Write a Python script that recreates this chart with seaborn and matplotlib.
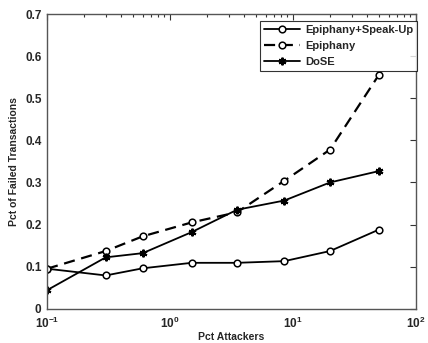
import matplotlib
matplotlib.use("Agg")
import matplotlib.pyplot as plt
import seaborn as sns
import numpy as np
from matplotlib.ticker import LogLocator, FixedLocator

# Percentage of attacking nodes (log scale)
pct_attackers = [0.1, 0.3, 0.6, 1.5, 3.5, 8.5, 20, 50]

# Fraction of failed transactions per scheme
epiphany_speakup = [0.095, 0.079, 0.096, 0.109, 0.109, 0.113, 0.137, 0.188]
epiphany = [0.095, 0.137, 0.172, 0.205, 0.229, 0.304, 0.378, 0.556]
dose = [0.044, 0.122, 0.132, 0.182, 0.235, 0.257, 0.300, 0.327]

series_names = ["Epiphany+Speak-Up", "Epiphany", "DoSE"]

sns.set_style("white")
plt.rcParams["font.family"] = ["Liberation Sans", "DejaVu Sans"]
plt.rcParams["mathtext.fontset"] = "custom"
plt.rcParams["mathtext.rm"] = "Liberation Sans:bold"
plt.rcParams["mathtext.bf"] = "Liberation Sans:bold"

fig = plt.figure(figsize=(4.28, 3.43), dpi=100)
ax = fig.add_axes([0.110, 0.100, 0.862, 0.859])

# Epiphany+Speak-Up: solid line, open circles
sns.lineplot(x=pct_attackers, y=epiphany_speakup, ax=ax, color="black",
             marker="o", markersize=4.8, markerfacecolor="white",
             markeredgecolor="black", markeredgewidth=1.1, linewidth=1.3,
             label=series_names[0])
# Epiphany: dashed line, open circles
sns.lineplot(x=pct_attackers, y=epiphany, ax=ax, color="black",
             marker="o", markersize=4.8, markerfacecolor="white",
             markeredgecolor="black", markeredgewidth=1.1, linewidth=1.6,
             dashes=(5, 3), label=series_names[1])
# DoSE: solid line, asterisks
sns.lineplot(x=pct_attackers, y=dose, ax=ax, color="black",
             marker=(6, 2, 0), markersize=5.5, markeredgewidth=1.5,
             markeredgecolor="black", linewidth=1.3, label=series_names[2])

ax.set_xscale("log")
ax.set_xlim(0.1, 100)
ax.set_ylim(0, 0.7)
ax.xaxis.set_major_locator(FixedLocator([0.1, 1, 10, 100]))
ax.xaxis.set_minor_locator(LogLocator(base=10, subs=np.arange(2, 10), numticks=20))
ax.set_yticks([0, 0.1, 0.2, 0.3, 0.4, 0.5, 0.6, 0.7])
ax.set_yticklabels(["0", "0.1", "0.2", "0.3", "0.4", "0.5", "0.6", "0.7"])
ax.set_xticklabels([r"$10^{-1}$", r"$10^{0}$", r"$10^{1}$", r"$10^{2}$"])

ax.tick_params(axis="both", which="both", direction="in", top=True, right=True,
               labelsize=8.5, color="#333333")
ax.tick_params(which="major", length=4, width=0.8)
ax.tick_params(which="minor", length=2, width=0.8)
ax.tick_params(axis="x", pad=5)
ax.tick_params(axis="y", pad=4)
for lab in ax.get_yticklabels() + ax.get_xticklabels():
    lab.set_fontweight("bold")

for sp in ax.spines.values():
    sp.set_color("#555555")
    sp.set_linewidth(1.0)

ax.set_xlabel("Pct Attackers", fontsize=7.5, fontweight="bold", labelpad=1)
ax.set_ylabel("Pct of Failed Transactions", fontsize=7.5, fontweight="bold", labelpad=4)

leg = ax.legend(loc="upper right", bbox_to_anchor=(1.004, 0.976), frameon=True,
                fancybox=False, prop={"weight": "bold", "size": 8}, handlelength=3.2,
                borderaxespad=0.0, labelspacing=0.55, handletextpad=0.5,
                borderpad=0.35)
leg.get_frame().set_edgecolor("black")
leg.get_frame().set_linewidth(0.8)

fig.savefig("out.png", dpi=100)
